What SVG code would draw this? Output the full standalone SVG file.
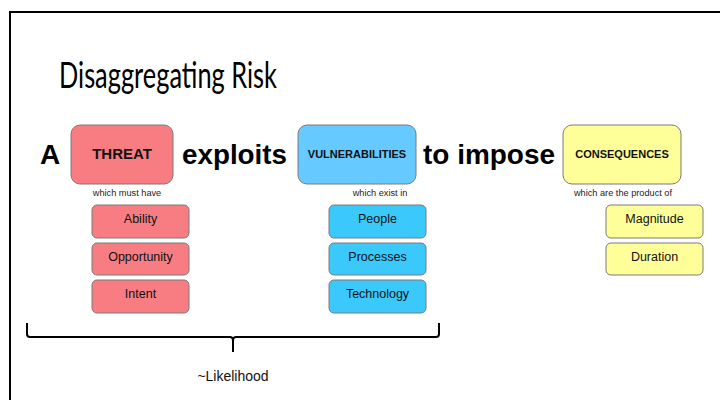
<svg xmlns="http://www.w3.org/2000/svg" width="720" height="400" viewBox="0 0 720 400">
<style>
.b{stroke:#7a7a7a;stroke-width:1}
.red{fill:#f87d82}
.blu{fill:#66c9ff}
.blu2{fill:#3bc8fb}
.yel{fill:#ffff99}
.big{font-family:"Liberation Sans",Arial,sans-serif;font-weight:bold;font-size:28px;fill:#000}
.hd{font-family:"Liberation Sans",Arial,sans-serif;font-weight:bold;fill:#111;text-anchor:middle}
.sm{font-family:"Liberation Sans",Arial,sans-serif;font-size:9.2px;fill:#222;text-anchor:middle}
.it{font-family:"Liberation Sans",Arial,sans-serif;font-size:12.5px;fill:#111;text-anchor:middle}
</style>
<rect x="0" y="0" width="720" height="400" fill="#fff"/>
<path d="M10 400 V12 H720" fill="none" stroke="#000" stroke-width="2"/>
<text x="59" y="88" font-family="Lato, Noto Sans, sans-serif" font-size="37" fill="#000" textLength="218" lengthAdjust="spacingAndGlyphs">Disaggregating Risk</text>
<text class="big" x="40" y="164">A</text>
<text class="big" x="182" y="164" textLength="105" lengthAdjust="spacingAndGlyphs">exploits</text>
<text class="big" x="423" y="164" textLength="132" lengthAdjust="spacingAndGlyphs">to impose</text>
<g id="threat"><rect class="b red" x="71" y="125" width="102" height="59" rx="9"/><text class="hd" x="122" y="158.5" font-size="15">THREAT</text></g>
<g id="vulnerabilities"><rect class="b blu" x="298" y="125" width="118" height="59" rx="9"/><text class="hd" x="357" y="157.5" font-size="11">VULNERABILITIES</text></g>
<g id="consequences"><rect class="b yel" x="563" y="125" width="118" height="59" rx="9"/><text class="hd" x="622" y="157.5" font-size="11">CONSEQUENCES</text></g>
<text class="sm" x="127" y="196">which must have</text>
<text class="sm" x="380" y="196">which exist in</text>
<text class="sm" x="623" y="196">which are the product of</text>
<g id="ability"><rect class="b red" x="92" y="205" width="97" height="33" rx="5"/><text class="it" x="140.5" y="223">Ability</text></g>
<g id="opportunity"><rect class="b red" x="92" y="243" width="97" height="32" rx="5"/><text class="it" x="140.5" y="261">Opportunity</text></g>
<g id="intent"><rect class="b red" x="92" y="280" width="97" height="33" rx="5"/><text class="it" x="140.5" y="298">Intent</text></g>
<g id="people"><rect class="b blu2" x="329" y="205" width="97" height="33" rx="5"/><text class="it" x="377.5" y="223">People</text></g>
<g id="processes"><rect class="b blu2" x="329" y="243" width="97" height="32" rx="5"/><text class="it" x="377.5" y="261">Processes</text></g>
<g id="technology"><rect class="b blu2" x="329" y="280" width="97" height="33" rx="5"/><text class="it" x="377.5" y="298">Technology</text></g>
<g id="magnitude"><rect class="b yel" x="606" y="205" width="97" height="33" rx="5"/><text class="it" x="654.5" y="223">Magnitude</text></g>
<g id="duration"><rect class="b yel" x="606" y="243" width="97" height="32" rx="5"/><text class="it" x="654.5" y="261">Duration</text></g>
<g id="connectors">
<path d="M27 323 V334 Q27 337 30 337 H230 Q233 337 233 341 V352 M233 341 Q233 337 236 337 H436 Q439 337 439 334 V323" fill="none" stroke="#000" stroke-width="2"/>
</g>
<text x="233" y="381" font-family="Liberation Sans, Arial, sans-serif" font-size="14" fill="#111" text-anchor="middle">~Likelihood</text>
</svg>
